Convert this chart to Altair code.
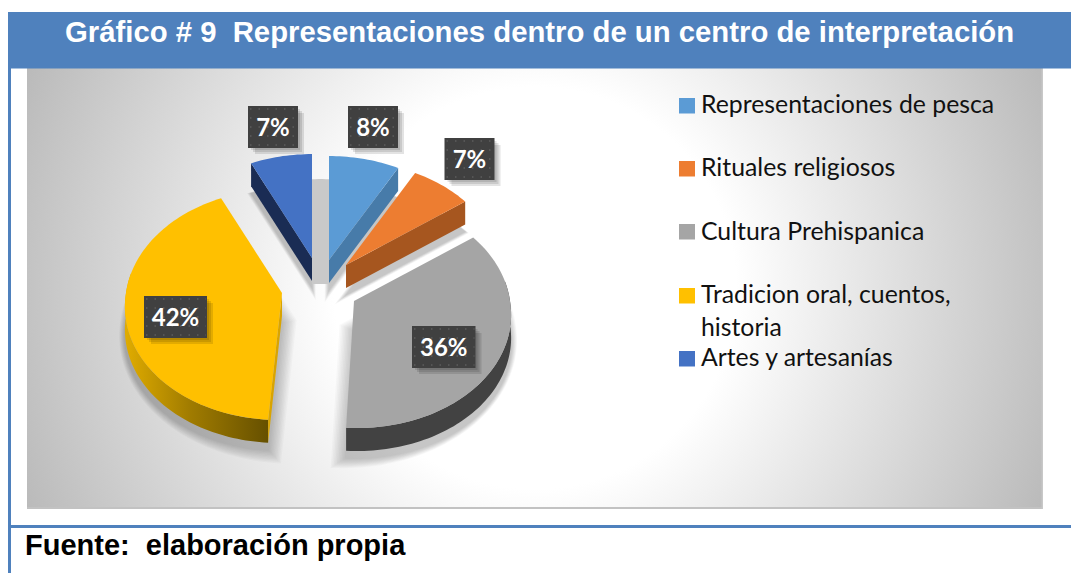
import math
import altair as alt
import pandas as pd

categories = ["Representaciones de pesca", "Rituales religiosos", "Cultura Prehispanica",
              "Tradicion oral, cuentos,\nhistoria", "Artes y artesanías"]
shares = [8, 7, 36, 42, 7]
labels = ["8%", "7%", "36%", "42%", "7%"]
colors = ["#5B9BD5", "#ED7D31", "#A5A5A5", "#FFC000", "#4472C4"]
wall_colors = ["#477BA9", "#A6561F", "#424242", "#D9A400", "#1A2C54"]
apex_x = [329, 346, 354, 282, 312]
apex_y = [260, 265, 301, 293, 258]
front_skew = {354: -3, 282: 3}

TITLE = "Gráfico # 9\u00a0\u00a0Representaciones dentro de un centro de interpretación"
SOURCE = "Fuente:\u00a0\u00a0elaboración propia"

RX, S, K, DEPTH = 156, 114.3, 0.1, 23
XS = alt.Scale(domain=[8, 1071], range=[0, 1063])
YS = alt.Scale(domain=[8, 573], range=[0, 565])
X = alt.X("x:Q", scale=XS, axis=None)
Y = alt.Y("y:Q", scale=YS, axis=None)
X2, Y2 = alt.X2("x2:Q"), alt.Y2("y2:Q")


def rim(ax, ay, t0, t1, dy=0.0):
    n = max(2, int(abs(t1 - t0) / 1.5) + 1)
    pts = []
    for i in range(n + 1):
        t = math.radians(t0 + (t1 - t0) * i / n)
        u, v = math.sin(t), math.cos(t)
        d = 1 + K * v
        skew = front_skew.get(ax, 0) * v if v < 0 else 0
        pts.append((ax + RX * u / d + skew, ay - S * v / d + dy))
    return pts


def poly(pts, **mark):
    pts = list(pts) + [pts[0]]
    df = pd.DataFrame({"x": [p[0] for p in pts], "y": [p[1] for p in pts], "i": range(len(pts))})
    return alt.Chart(df).mark_line(strokeWidth=0, strokeOpacity=0, **mark).encode(
        x=X, y=Y, order=alt.Order("i:Q"))


def rect(x, x2, y, y2, clip=False, **mark):
    df = pd.DataFrame({"x": [x], "x2": [x2], "y": [y], "y2": [y2]})
    return alt.Chart(df).mark_rect(clip=clip, **mark).encode(x=X, x2=X2, y=Y, y2=Y2)


def text(x, y, s, **mark):
    df = pd.DataFrame({"x": [x], "y": [y], "t": [s]})
    return alt.Chart(df).mark_text(baseline="alphabetic", **mark).encode(x=X, y=Y, text="t:N")


# angular ranges from the shares
ranges, acc = [], 0
for s in shares:
    ranges.append((acc * 3.6, (acc + s) * 3.6))
    acc += s

layers = []

# background: round gradient on a square, clipped and covered by the frame
bg = alt.RadialGradient(gradient="radial", x1=0.5, y1=0.5, r1=0, x2=0.5, y2=0.5, r2=0.55,
                        stops=[alt.GradientStop(offset=0, color="#ffffff"),
                               alt.GradientStop(offset=0.36, color="#ffffff"),
                               alt.GradientStop(offset=1, color="#b9b9b9")])
layers.append(rect(27, 1043, -220, 796, clip=True, fill=bg))
layers.append(rect(8, 1071, 8, 68, fill="white"))
layers.append(rect(8, 27, 8, 573, fill="white"))
layers.append(rect(1043, 1071, 8, 573, fill="white"))
layers.append(rect(8, 1071, 509, 573, fill="white"))
layers.append(rect(27, 1043, 507, 509, fill="#c2c2c2"))
layers.append(rect(1041.5, 1043, 68, 509, fill="#c8c8c8"))

# soft drop shadows of every slice
for (t0, t1), ax, ay in zip(ranges, apex_x, apex_y):
    base = [(ax, ay)] + rim(ax, ay, t0, t1)
    cx = sum(p[0] for p in base) / len(base)
    cy = sum(p[1] for p in base) / len(base)
    for k in range(1, 11):
        f = 1 + k * 0.013
        layers.append(poly([(cx + (p[0] - cx) * f, cy + (p[1] - cy) * f + DEPTH + 7) for p in base],
                           fill="#000000", opacity=0.022))

# shadow seen between the two upper slices
layers.append(poly(rim(320.5, 283, -8, 8) + [(329, 284), (312, 284)], fill="#c9c9c9"))


def wall_cut(i, t):
    ax, ay = apex_x[i], apex_y[i]
    p = rim(ax, ay, t, t)[0]
    return [p, (ax, ay), (ax, ay + DEPTH), (p[0], p[1] + DEPTH)]


def wall_rim(i, t0, t1):
    ax, ay = apex_x[i], apex_y[i]
    return rim(ax, ay, t0, t1) + rim(ax, ay, t1, t0, DEPTH)


def face(i):
    return [(apex_x[i], apex_y[i])] + rim(apex_x[i], apex_y[i], *ranges[i])


# back slices
layers.append(poly(wall_cut(4, ranges[4][0]), fill=wall_colors[4]))
layers.append(poly(face(4), fill=colors[4]))
layers.append(poly(wall_cut(0, ranges[0][1]), fill=wall_colors[0]))
layers.append(poly(face(0), fill=colors[0]))
layers.append(poly(wall_cut(1, ranges[1][1]), fill=wall_colors[1]))
layers.append(poly(face(1), fill=colors[1]))

# grey slice
layers.append(poly(wall_rim(2, 80, ranges[2][1]), fill=wall_colors[2]))
layers.append(poly(face(2), fill=colors[2]))

# yellow slice
gold = alt.LinearGradient(gradient="linear", x1=0, y1=0, x2=1, y2=0,
                          stops=[alt.GradientStop(offset=0, color="#E0AC00"),
                                 alt.GradientStop(offset=0.45, color="#A17C00"),
                                 alt.GradientStop(offset=1, color="#665000")])
layers.append(poly(wall_rim(3, 280, ranges[3][0]), fill=gold))
layers.append(poly(wall_cut(3, ranges[3][0]), fill=wall_colors[3]))
layers.append(poly(face(3), fill=colors[3]))

# data labels: textured dark boxes with a shadow
boxes = [(348, 398, 106, 148, 135.7), (444.5, 494.5, 138, 180, 167.7),
         (412, 475.5, 326, 368, 355.7), (144, 207, 296, 338, 325.7),
         (248, 298, 106, 148, 135.7)]
for lab, (x0, x1, y0, y1, base) in zip(labels, boxes):
    for k in (2, 4, 6):
        layers.append(rect(x0 + 1 + k, x1 + k, y0 + 1 + k, y1 + k, fill="#000000", opacity=0.11))
    layers.append(rect(x0, x1, y0, y1, fill="#404040"))
    rows = pd.DataFrame({"x": [x0 + 2] * 5, "x2": [x1 - 1] * 5,
                         "y": [y0 + 3 + 9 * r for r in range(5)]})
    layers.append(alt.Chart(rows).mark_rule(color="#5c5c5c", strokeWidth=1.5, strokeDash=[1.5, 7]).encode(
        x=X, x2=X2, y=Y))
    layers.append(text((x0 + x1) / 2, base, lab, font="Lato", fontSize=24, fontWeight="bold",
                       color="white", align="center"))

# legend
leg_top = [98, 161, 224, 288, 351]
leg_base = [113, 176, 240, 303, 366]
for name, col, top, base in zip(categories, colors, leg_top, leg_base):
    layers.append(rect(679, 695, top, top + 15.5, fill=col))
    for j, line in enumerate(name.split("\n")):
        layers.append(text(701, base + 33 * j, line, font="Lato", fontSize=24.8, color="#111111", align="left"))

# frame
layers.append(rect(8, 1071, 12, 68.5, fill="#4F81BD"))
layers.append(rect(8, 11, 12, 573, fill="#4F81BD"))
layers.append(rect(8, 1071, 525, 528, fill="#4F81BD"))
layers.append(text(65, 42, TITLE, font="Liberation Sans", fontSize=29.3, fontWeight="bold",
                   color="white", align="left"))
layers.append(text(25, 555, SOURCE, font="Liberation Sans", fontSize=29, fontWeight="bold",
                   color="black", align="left"))

chart = alt.layer(*layers).properties(
    width=1063, height=565, padding=0,
    autosize=alt.AutoSizeParams(type="none"),
).configure_view(stroke=None).configure(background="white")

chart.save("out.html", embed_options={"renderer": "svg", "actions": False})
